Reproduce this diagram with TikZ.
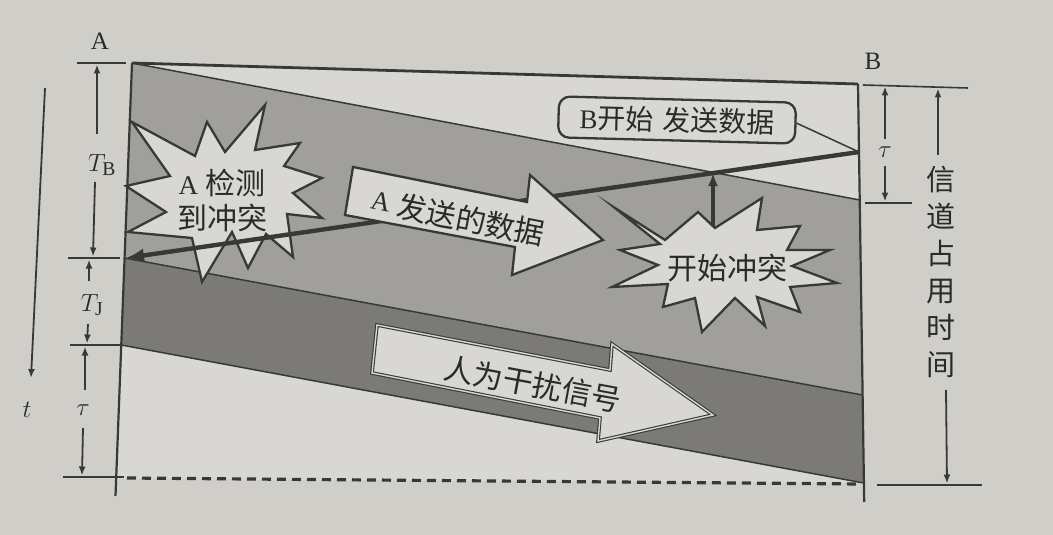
\documentclass[tikz,border=0pt]{standalone}
\usepackage{fontspec}
\setmainfont{Liberation Serif}
\newfontfamily\cjk{Noto Sans CJK SC}
\usetikzlibrary{arrows.meta}
\definecolor{paper}{HTML}{D0CEC9}
\definecolor{lightfill}{HTML}{D8D7D3}
\definecolor{grayA}{HTML}{A09F9C}
\definecolor{grayB}{HTML}{7B7A77}
\definecolor{ink}{HTML}{383838}
\definecolor{txt}{HTML}{2A2A2A}
\tikzset{
  bandline/.style={draw=ink, line width=1.5},
  border/.style={draw=ink, line width=2.2},
  starshape/.style={fill=lightfill, draw=ink, line width=2.3, line join=miter, miter limit=20},
  blockarrow/.style={fill=lightfill, draw=ink, line width=2.3, line join=miter, miter limit=20},
  jamarrow/.style={fill=lightfill, draw=ink, line width=1.1, double=lightfill, double distance=1.4, line join=miter, miter limit=20},
  dimline/.style={draw=ink, line width=1.6},
  dimarrow/.style={draw=ink, line width=1.8, -{Latex[length=9,width=7]}},
  bigarrow/.style={draw=ink, line width=4.4, -{Latex[length=18,width=14]}},
  cjkbig/.style={font=\cjk\fontsize{30}{35}\selectfont, text=txt, inner sep=0},
  latlabel/.style={font=\fontsize{25}{27}\selectfont, text=txt, inner sep=0},
  mathlabel/.style={font=\fontsize{28}{30}\selectfont, text=txt, inner sep=0},
  taulabel/.style={font=\fontsize{32}{34}\selectfont, text=txt, inner sep=0},
}
\begin{document}
\begin{tikzpicture}[x=1pt,y=-1pt]
\path[use as bounding box, fill=paper] (0,0) rectangle (1053,535);

% frame corners
\coordinate (TL) at (132,63);
\coordinate (TR) at (858,84);
\coordinate (R1) at (859.7,200);
\coordinate (R2) at (862.5,395);
\coordinate (R3) at (863.7,483);
\coordinate (RB) at (864.2,502);
\coordinate (L1) at (124.6,258);
\coordinate (L2) at (121.3,345);
\coordinate (L3) at (116.3,479);
\coordinate (LB) at (115.5,496);
\coordinate (Bs) at (859,152);
\coordinate (Aj) at (126,258);

% regions
\fill[lightfill] (TL) -- (TR) -- (R1) -- cycle;
\fill[grayA] (TL) -- (R1) -- (R2) -- (L1) -- cycle;
\fill[grayB] (L1) -- (R2) -- (R3) -- (L2) -- cycle;
\fill[lightfill] (L2) -- (R3) -- (L3) -- cycle;
\draw[bandline] (TL) -- (R1);
\draw[bandline] (L1) -- (R2);
\draw[bandline] (L2) -- (R3);

% dashed bottom
\coordinate (D1) at (127,478);
\coordinate (D2) at (861,484);
\draw[ink, line width=3.2, dash pattern=on 9 off 6] (D1) -- (D2);

% frame
\draw[border, line width=2.8] (TL) -- (TR);
\draw[border] (TR) -- (RB);
\draw[border] (TL) -- (LB);

% star: A detects collision
\draw[starshape] (265,105) -- (255,150) -- (300,143) -- (284,166) -- (322,178) -- (293,193)
  -- (322,218) -- (287,214) -- (293,257) -- (266,234) -- (248,268) -- (232,232)
  -- (202,282) -- (192,238) -- (128,232) -- (166,212) -- (126,186) -- (170,176)
  -- (132,122) -- (195,156) -- (207,122) -- (225,152) -- cycle;
\node[font=\fontsize{30}{35}\selectfont, text=txt, align=center, inner sep=0] (detect) at (222,200)
  {{\fontsize{27}{35}\selectfont A} {\cjk 检测}\\{\cjk 到冲突}};

% star: collision begins
\draw[starshape] (615,208) -- (665,240) -- (698,212) -- (715,228) -- (762,198) -- (757,230)
  -- (800,226) -- (787,250) -- (830,250) -- (792,266) -- (837,283) -- (790,287)
  -- (800,312) -- (757,297) -- (765,326) -- (735,298) -- (702,332) -- (695,298)
  -- (663,307) -- (668,284) -- (612,287) -- (658,265) -- (620,250) -- (660,244) -- cycle;
\node[cjkbig] (collide) at (727,268) {开始冲突};

% B's signal reaching A
\draw[bigarrow] (Bs) -- (Aj);

% vertical arrow from collision star
\coordinate (Cs) at (713,226);
\coordinate (Ce) at (713,173);
\draw[draw=ink, line width=3.6, -{Latex[length=13,width=10]}] (Cs) -- (Ce);

% B starts sending box
\node[draw=ink, line width=2.3, fill=lightfill, rounded corners=11, minimum width=237, minimum height=41,
  rotate=-1.5, inner sep=0, text=txt, font=\fontsize{27}{30}\selectfont] (bbox) at (677,120)
  {B{\cjk\fontsize{28}{30}\selectfont 开始}\hspace{9pt}{\cjk\fontsize{28}{30}\selectfont 发送数据}};
\draw[ink, line width=1.5] (bbox.east) -- (Bs);

% A sends data arrow
\draw[blockarrow] (353,167) -- (527,202) -- (530,175) -- (603,240) -- (512,275) -- (515,247) -- (345,215) -- cycle;
\node[rotate=-11, text=txt, font=\fontsize{27}{30}\selectfont, inner sep=0] (asendA) at (381,202) {A};
\node[rotate=-11, cjkbig] (asend) at (471,220) {发送的数据};

% jam signal arrow
\draw[jamarrow] (377,325) -- (610,370) -- (612,344) -- (713,415) -- (598,441) -- (600,418) -- (372,373) -- cycle;
\node[cjkbig, rotate=-10.5] (jam) at (533,384) {人为干扰信号};

% labels A, B
\node[latlabel] (labA) at (100,41) {A};
\node[latlabel] (labB) at (873,61) {B};

% left dimensions
\coordinate (tA1) at (77,63);   \coordinate (tA2) at (126,63);
\coordinate (tB1) at (68,258);  \coordinate (tB2) at (120,258);
\coordinate (tJ1) at (70,345);  \coordinate (tJ2) at (121,345);
\coordinate (tE1) at (63,477);  \coordinate (tE2) at (124,477);
\draw[dimline] (tA1) -- (tA2);
\draw[dimline] (tB1) -- (tB2);
\draw[dimline] (tJ1) -- (tJ2);
\draw[dimline] (tE1) -- (tE2);

\node[mathlabel] (TB) at (102,165) {$T_{\mathrm{B}}$};
\coordinate (tb1) at (97,134); \coordinate (tb2) at (97,64.5);
\coordinate (tb3) at (95,182); \coordinate (tb4) at (93,256.5);
\draw[dimarrow] (tb1) -- (tb2);
\draw[dimarrow] (tb3) -- (tb4);

\node[mathlabel] (TJ) at (92,305) {$T_{\mathrm{J}}$};
\coordinate (tj1) at (89,281); \coordinate (tj2) at (89,259.5);
\coordinate (tj3) at (88,324); \coordinate (tj4) at (87,343.5);
\draw[dimarrow] (tj1) -- (tj2);
\draw[dimarrow] (tj3) -- (tj4);

\node[taulabel] (tauL) at (83,410) {$\tau$};
\coordinate (tl1) at (85,390); \coordinate (tl2) at (85,346.5);
\coordinate (tl3) at (83,428); \coordinate (tl4) at (82,475.5);
\draw[dimarrow] (tl1) -- (tl2);
\draw[dimarrow] (tl3) -- (tl4);

\coordinate (ts) at (45,88); \coordinate (te) at (31,378);
\draw[dimarrow] (ts) -- (te);
\node[mathlabel] (tlab) at (27,410) {$t$};

% right dimensions
\coordinate (rB1) at (863,85);  \coordinate (rB2) at (968,88);
\coordinate (rT1) at (865,203); \coordinate (rT2) at (912,203);
\coordinate (rE1) at (877,485); \coordinate (rE2) at (982,485);
\draw[dimline] (rB1) -- (rB2);
\draw[dimline] (rT1) -- (rT2);
\draw[dimline] (rE1) -- (rE2);

\node[taulabel] (tauR) at (885,152) {$\tau$};
\coordinate (tr1) at (885,139); \coordinate (tr2) at (885,86.5);
\coordinate (tr3) at (885,166); \coordinate (tr4) at (885,201.5);
\draw[dimarrow] (tr1) -- (tr2);
\draw[dimarrow] (tr3) -- (tr4);

\node[font=\cjk\fontsize{29}{37}\selectfont, text=txt, align=center, inner sep=0] (chan) at (941,272)
  {信\\道\\占\\用\\时\\间};
\coordinate (ch1) at (938,155); \coordinate (ch2) at (938,88.5);
\coordinate (ch3) at (946,390); \coordinate (ch4) at (947,483.5);
\draw[dimarrow] (ch1) -- (ch2);
\draw[dimarrow] (ch3) -- (ch4);
\end{tikzpicture}
\end{document}
